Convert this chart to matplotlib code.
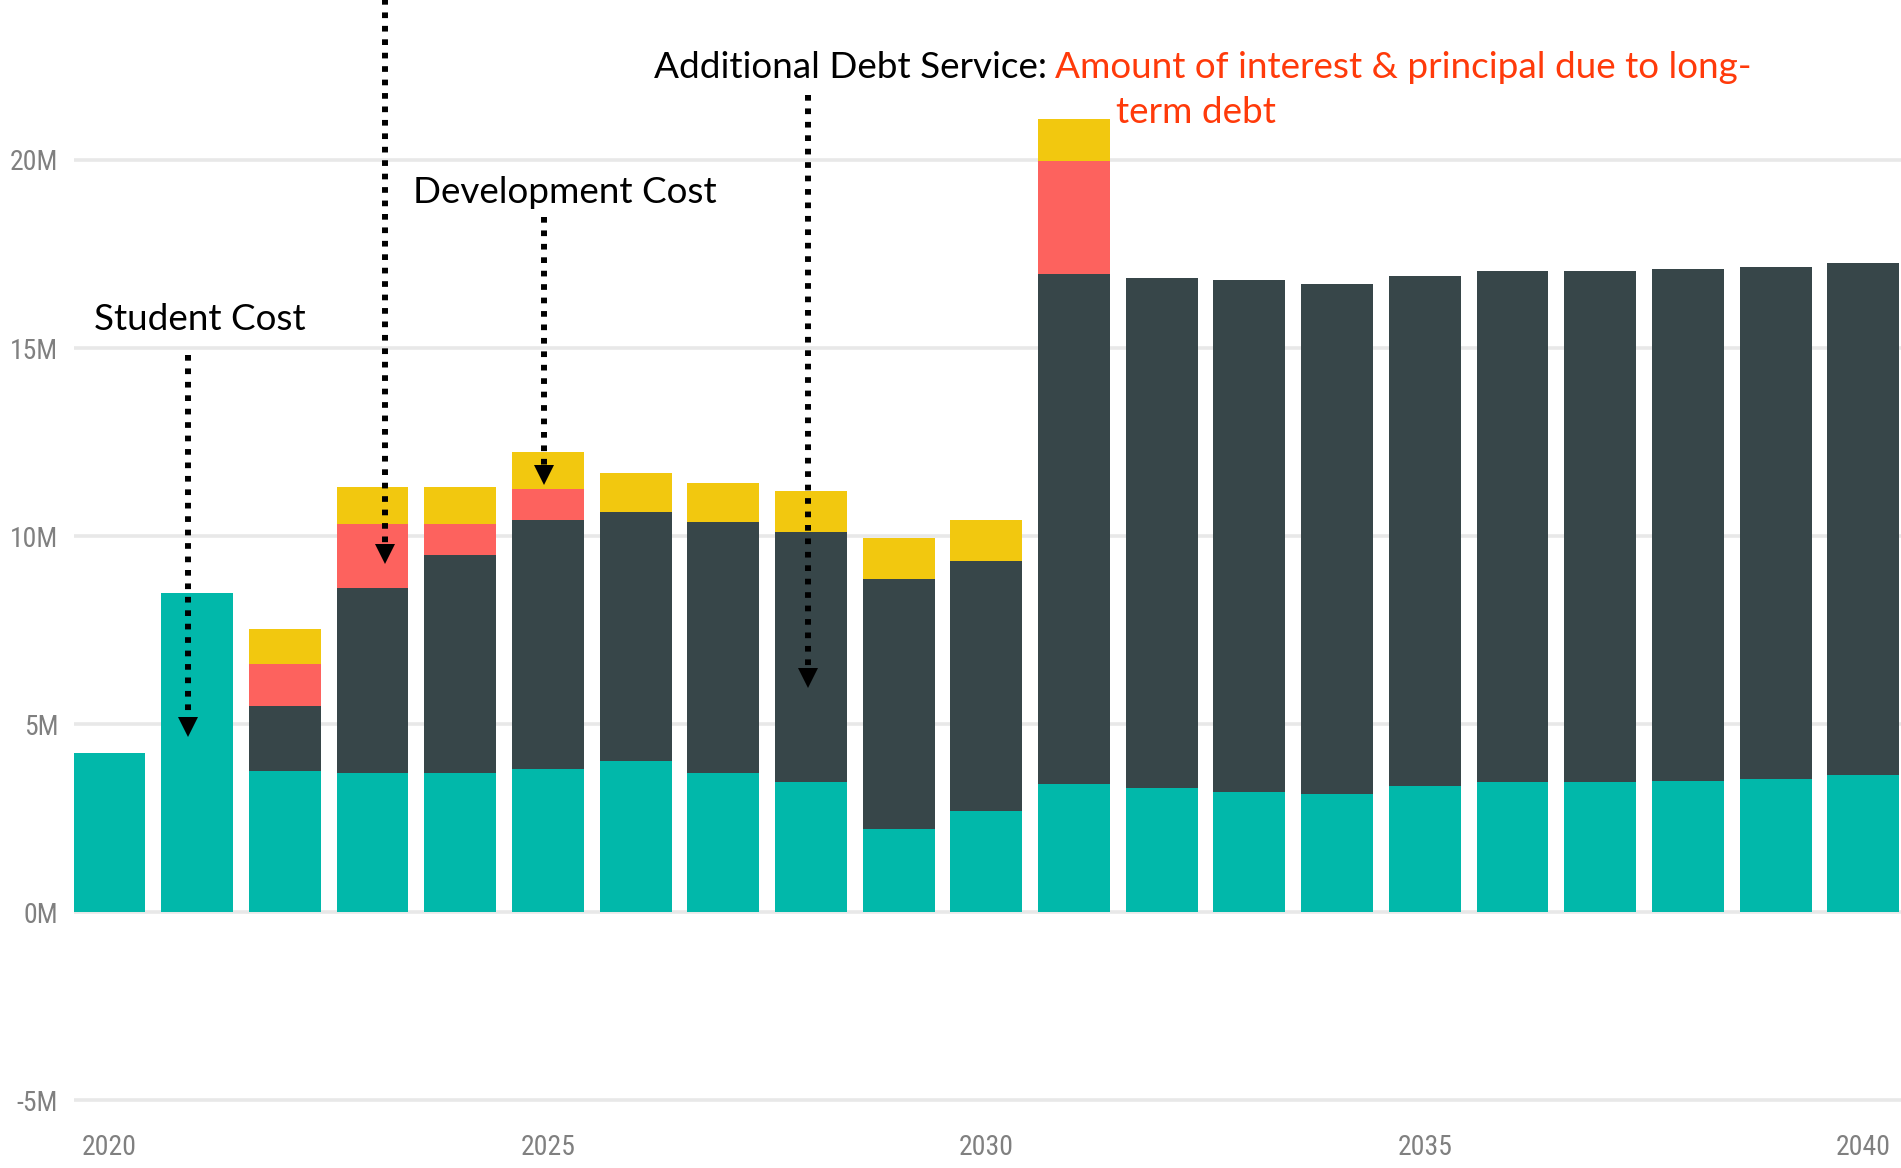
import matplotlib
matplotlib.use("Agg")
import matplotlib.pyplot as plt
from matplotlib import font_manager
import numpy as np

# Yearly cost components, in millions
years = list(range(2020, 2041))
student_cost = [4.22, 8.48, 3.76, 3.71, 3.71, 3.80, 4.02, 3.71, 3.46, 2.20, 2.68,
                3.40, 3.29, 3.18, 3.13, 3.34, 3.45, 3.45, 3.49, 3.55, 3.64]
debt_service = [0.00, 0.00, 1.72, 4.91, 5.79, 6.63, 6.62, 6.67, 6.66, 6.67, 6.66,
                13.56, 13.56, 13.62, 13.57, 13.57, 13.61, 13.61, 13.62, 13.61, 13.62]
capital_cost = [0.00, 0.00, 1.12, 1.71, 0.83, 0.83, 0.00, 0.00, 0.00, 0.00, 0.00,
                3.00, 0.00, 0.00, 0.00, 0.00, 0.00, 0.00, 0.00, 0.00, 0.00]
development_cost = [0.00, 0.00, 0.93, 0.97, 0.97, 0.98, 1.03, 1.03, 1.09, 1.09, 1.09,
                    1.13, 0.00, 0.00, 0.00, 0.00, 0.00, 0.00, 0.00, 0.00, 0.00]

y_ticks = [-5, 0, 5, 10, 15, 20]
x_ticks = [2020, 2025, 2030, 2035, 2040]

TEAL = "#01B8AA"
DARK = "#374649"
RED = "#FD625E"
YELLOW = "#F2C80F"
TICK_GREY = "#808080"
NOTE_RED = "#FF3A0A"

W, H = 1901, 1168
fig = plt.figure(figsize=(W / 100, H / 100), dpi=100)

ax_left, ax_bottom_px = 73.5, 1122.6
ax = fig.add_axes([ax_left / W, 1 - ax_bottom_px / H, (W - ax_left) / W, ax_bottom_px / H])
ax.set_xlim(2019.59, 2040.43)
ax.set_ylim(-5.6, 24.255)

x = np.array(years)
s = np.array(student_cost)
d = np.array(debt_service)
c = np.array(capital_cost)
v = np.array(development_cost)
bw = 0.82
ax.bar(x, s, bw, color=TEAL, zorder=2)
ax.bar(x, d, bw, bottom=s, color=DARK, zorder=2)
ax.bar(x, c, bw, bottom=s + d, color=RED, zorder=2)
ax.bar(x, v, bw, bottom=s + d + c, color=YELLOW, zorder=2)

for sp in ax.spines.values():
    sp.set_visible(False)
ax.set_yticks(y_ticks)
ax.set_yticklabels([f"{t}M" for t in y_ticks])
ax.set_xticks(x_ticks)
ax.set_xticklabels([str(t) for t in x_ticks])
ax.yaxis.grid(True, color="#e8e8e8", lw=2.6, zorder=0)
ax.set_axisbelow(True)
ax.tick_params(axis="both", length=0, colors=TICK_GREY)
ax.tick_params(axis="y", pad=11)
ax.tick_params(axis="x", pad=8)

# Narrow face for the axis labels, using whatever condensed family is present
installed = {f.name for f in font_manager.fontManager.ttflist}
narrow = [n for n in ("Liberation Sans Narrow", "Roboto Condensed", "Open Sans Condensed",
                      "Noto Sans Condensed", "DejaVu Sans Condensed") if n in installed]
for lab in ax.get_yticklabels():
    lab.set_family(narrow + ["DejaVu Sans"])
    lab.set_fontstretch("condensed")
    lab.set_fontsize(20 if narrow else 17)
for lab in ax.get_xticklabels():
    lab.set_family(narrow + ["DejaVu Sans"])
    lab.set_fontstretch("condensed")
    lab.set_fontsize(20 if narrow else 18)

# Dotted pointer arrows (x year, top value, tip value)
pointers = [
    (2020.90, 14.81, 4.68),
    (2023.14, 24.30, 9.28),
    (2024.96, 18.48, 11.36),
    (2027.97, 21.73, 5.98),
]
head_h = 19 / 37.6  # arrowhead height in data units
for px, top, tip in pointers:
    ax.plot([px, px], [top, tip + head_h * 0.6], color="black", lw=4.3,
            linestyle=(0, (0.95, 1.3)), dash_capstyle="butt", zorder=5, clip_on=False)
    ax.plot([px], [tip + head_h / 2], marker="v", color="black", markersize=14.4,
            markeredgewidth=0, zorder=6, clip_on=False)


def fxy(xp, yp):
    return xp / W, 1 - yp / H


font = ["Lato", "DejaVu Sans"]
fs = 26.6
fig.text(*fxy(93.5, 330), "Student Cost", fontsize=fs, family=font, va="baseline", ha="left")
fig.text(*fxy(413, 203), "Development Cost", fontsize=fs, family=font, va="baseline", ha="left")
fig.text(*fxy(1047, 78), "Additional Debt Service:", fontsize=fs, family=font,
         va="baseline", ha="right", color="black")
fig.text(*fxy(1055, 78), "Amount of interest & principal due to long-", fontsize=fs,
         family=font, va="baseline", ha="left", color=NOTE_RED)
fig.text(*fxy(1196, 123), "term debt", fontsize=fs, family=font, va="baseline",
         ha="center", color=NOTE_RED)

fig.savefig("out.png", dpi=100, facecolor="white")
